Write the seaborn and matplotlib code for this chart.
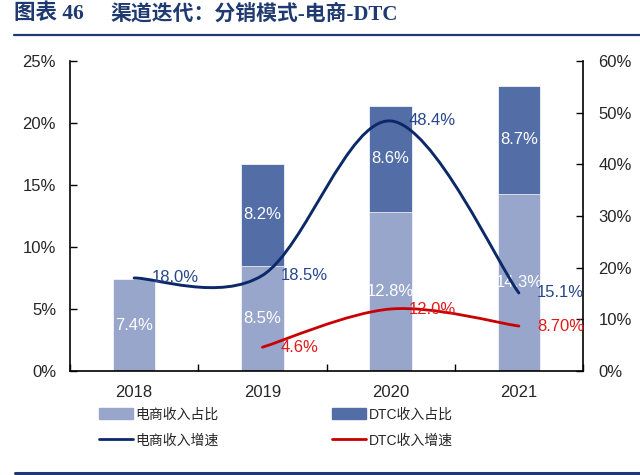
import numpy as np
import pandas as pd
import matplotlib
matplotlib.use("Agg")
import matplotlib.pyplot as plt
import seaborn as sns
from matplotlib.path import Path
from matplotlib.patches import PathPatch, Patch
from matplotlib.lines import Line2D

# ---- data ----
years = ["2018", "2019", "2020", "2021"]
ecom_share = [7.4, 8.5, 12.8, 14.3]          # 电商收入占比 (%)
dtc_share = [0.0, 8.2, 8.6, 8.7]             # DTC收入占比 (%)
ecom_growth = [18.0, 18.5, 48.4, 15.1]       # 电商收入增速 (%)
dtc_growth_years = ["2019", "2020", "2021"]
dtc_growth = [4.6, 12.0, 8.7]                # DTC收入增速 (%)
dtc_growth_labels = ["4.6%", "12.0%", "8.70%"]
left_ticks = [0, 5, 10, 15, 20, 25]
right_ticks = [0, 10, 20, 30, 40, 50, 60]

sns.set_theme(style="white")
plt.rcParams["font.family"] = ["Liberation Sans", "Noto Sans CJK SC", "DejaVu Sans"]

C_LIGHT = "#98A6CB"
C_DARK = "#536EA7"
C_NAVY = "#0B2868"
C_NAVY_TXT = "#27468C"
C_RED = "#C80000"
C_RED_TXT = "#E01A1A"
C_TITLE = "#1F3A70"
TXT = "#262626"

fig = plt.figure(figsize=(6.4, 4.75), dpi=100)
ax = fig.add_axes([70/640, 1-371/475, (583-70)/640, (371-61)/475])

df = pd.DataFrame({"year": years, "ecom": ecom_share, "dtc": dtc_share})
df["total"] = df["ecom"] + df["dtc"]

sns.barplot(data=df, x="year", y="total", color=C_DARK, width=0.33,
            saturation=1, ax=ax, edgecolor="white", linewidth=0.5)
sns.barplot(data=df, x="year", y="ecom", color=C_LIGHT, width=0.33,
            saturation=1, ax=ax, edgecolor="white", linewidth=0.5)

# bar labels
for i, (e, d) in enumerate(zip(ecom_share, dtc_share)):
    ax.text(i, e/2, f"{e:.1f}%", ha="center", va="center", color="white", fontsize=12)
    if d > 0:
        ax.text(i, e + d/2, f"{d:.1f}%", ha="center", va="center", color="white", fontsize=12)

ax.set_xlim(-0.5, 3.5)
ax.set_ylim(0, 25)
ax.set_yticks(left_ticks)
ax.set_yticklabels([f"{t}%" for t in left_ticks])
ax.set_xlabel("")
ax.set_ylabel("")
ax.set_xticks([-0.5, 0.5, 1.5, 2.5, 3.5], minor=False)
ax.set_xticklabels([])
ax.set_xticks([0, 1, 2, 3], minor=True)
ax.set_xticklabels(years, minor=True)
ax.tick_params(axis="x", which="major", direction="in", length=5, width=1, color="black", bottom=True)
ax.tick_params(axis="x", which="minor", length=0, pad=10, labelsize=12, labelcolor=TXT)
ax.tick_params(axis="y", direction="in", length=5, width=1, color="black", left=True,
               pad=10, labelsize=12, labelcolor=TXT)
for s in ["left", "bottom"]:
    ax.spines[s].set_color("black")
    ax.spines[s].set_linewidth(1.2)
ax.spines["top"].set_visible(False)
ax.spines["right"].set_visible(False)

ax2 = ax.twinx()
ax2.set_ylim(0, 60)
ax2.set_yticks(right_ticks)
ax2.set_yticklabels([f"{t}%" for t in right_ticks])
ax2.tick_params(axis="y", direction="in", length=5, width=1, color="black", right=True,
                pad=11, labelsize=12, labelcolor=TXT)
ax2.spines["right"].set_color("black")
ax2.spines["right"].set_linewidth(1.2)
for s in ["top", "left", "bottom"]:
    ax2.spines[s].set_visible(False)
ax2.grid(False)
ax.grid(False)


def smooth_path(xs, ys):
    pts = np.column_stack([xs, ys]).astype(float)
    n = len(pts)
    verts = [pts[0]]
    codes = [Path.MOVETO]
    for i in range(n - 1):
        p0 = pts[i - 1] if i > 0 else pts[i]
        p1 = pts[i]
        p2 = pts[i + 1]
        p3 = pts[i + 2] if i + 2 < n else pts[i + 1]
        c1 = p1 + (p2 - p0) / 6.0
        c2 = p2 - (p3 - p1) / 6.0
        verts += [c1, c2, p2]
        codes += [Path.CURVE4] * 3
    return Path(verts, codes)


xe = [years.index(y) for y in years]
xd = [years.index(y) for y in dtc_growth_years]
ax2.add_patch(PathPatch(smooth_path(xe, ecom_growth), facecolor="none",
                        edgecolor=C_NAVY, lw=2.1, capstyle="round", zorder=5))
ax2.add_patch(PathPatch(smooth_path(xd, dtc_growth), facecolor="none",
                        edgecolor=C_RED, lw=2.0, capstyle="round", zorder=5))

for x, v in zip(xe, ecom_growth):
    ax2.annotate(f"{v:.1f}%", (x, v), xytext=(13, 0), textcoords="offset points",
                 ha="left", va="center", color=C_NAVY_TXT, fontsize=12, zorder=6)
for x, v, lab in zip(xd, dtc_growth, dtc_growth_labels):
    ax2.annotate(lab, (x, v), xytext=(13, 0), textcoords="offset points",
                 ha="left", va="center", color=C_RED_TXT, fontsize=12, zorder=6)

# legend
handles = [Patch(color=C_LIGHT), Line2D([], [], color=C_NAVY, lw=2),
           Patch(color=C_DARK), Line2D([], [], color=C_RED, lw=2)]
labels = ["电商收入占比", "电商收入增速", "DTC收入占比", "DTC收入增速"]
fig.legend(handles, labels, ncol=2, loc="upper left",
           bbox_to_anchor=(86/640, 1-395/475), frameon=False,
           fontsize=10, handlelength=2.5, handleheight=0.9, handletextpad=0.15,
           columnspacing=8.15, labelspacing=0.85, labelcolor=TXT)

# title and rules
title_fam = ["Liberation Serif", "Noto Sans CJK SC"]
fig.text(14/640, 1-14/475, "图表 46",
         fontsize=15.5, fontweight="bold", color=C_TITLE, va="center", ha="left",
         family=title_fam)
fig.text(110/640, 1-14/475, "渠道迭代：分销模式-电商-DTC",
         fontsize=15, fontweight="bold", color=C_TITLE, va="center", ha="left",
         family=title_fam)
fig.add_artist(Line2D([14/640, 1.0], [1-34.5/475, 1-34.5/475], color=C_TITLE, lw=1.6))
fig.add_artist(Line2D([15/640, 1.0], [1-473/475, 1-473/475], color=C_TITLE, lw=2.2))

fig.savefig("out.png", dpi=100)
